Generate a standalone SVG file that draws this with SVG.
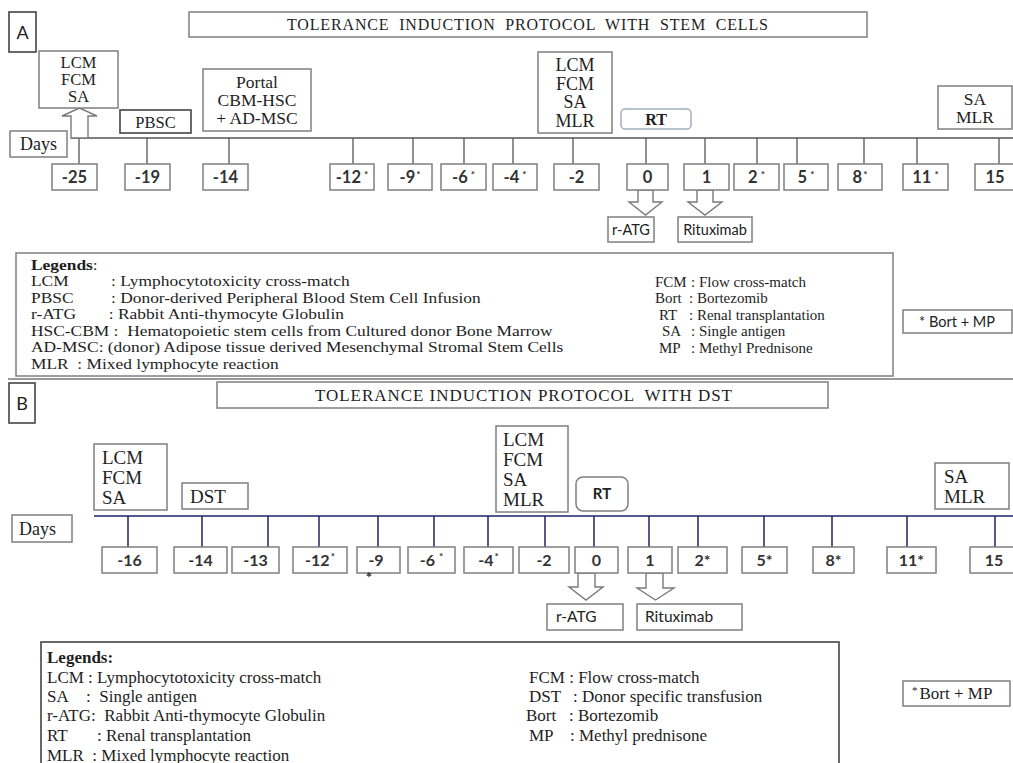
<svg xmlns="http://www.w3.org/2000/svg" width="1013" height="763" viewBox="0 0 1013 763">
<style>
.bg{fill:#fff}
.box{fill:#fff;stroke:#7f7f7f;stroke-width:1.5}
.dbox{fill:#fff;stroke:#444;stroke-width:1.6}
.serif{font-family:"Liberation Serif","Times New Roman",serif;fill:#1e1e1e}
.sans{font-family:Lato,"Liberation Sans",sans-serif;fill:#222}
.day{font-family:Lato,"Liberation Sans",sans-serif;font-weight:700;font-size:16.5px;text-anchor:middle;fill:#333}
.dayB{font-family:Lato,"Liberation Sans",sans-serif;font-weight:700;font-size:16px;text-anchor:middle;fill:#333}
.sup{font-size:10px}
.mid{text-anchor:middle}
.tickA{stroke:#555;stroke-width:1.3;fill:none}
.tickB{stroke:#1f2266;stroke-width:1.5;fill:none}
.arrow{fill:#fff;stroke:#7a7a7a;stroke-width:1.4}
.leg{font-size:15px}
.legR{font-size:15px}
.legB{font-size:17px}
</style>
<rect class="bg" x="0" y="0" width="1013" height="763"/>

<!-- ===== PANEL A ===== -->
<g id="labelA"><rect class="dbox" x="9" y="12" width="27" height="40"/><text class="sans mid" x="22.5" y="39" font-size="18">A</text></g>
<g id="titleA"><rect class="box" x="189" y="12" width="678" height="25"/><text class="serif" x="287" y="30" font-size="16" textLength="481" lengthAdjust="spacing" xml:space="preserve">TOLERANCE  INDUCTION  PROTOCOL  WITH  STEM  CELLS</text></g>

<g id="connectorsA">
<line class="tickA" x1="71" y1="138" x2="1013" y2="138"/>
<line class="tickA" x1="79" y1="138" x2="79" y2="164"/>
<line class="tickA" x1="147" y1="138" x2="147" y2="164"/>
<line class="tickA" x1="229" y1="138" x2="229" y2="164"/>
<line class="tickA" x1="353" y1="138" x2="353" y2="164"/>
<line class="tickA" x1="413" y1="138" x2="413" y2="164"/>
<line class="tickA" x1="464" y1="138" x2="464" y2="164"/>
<line class="tickA" x1="513" y1="138" x2="513" y2="164"/>
<line class="tickA" x1="573" y1="138" x2="573" y2="164"/>
<line class="tickA" x1="646" y1="138" x2="646" y2="164"/>
<line class="tickA" x1="705" y1="138" x2="705" y2="164"/>
<line class="tickA" x1="757" y1="138" x2="757" y2="164"/>
<line class="tickA" x1="797" y1="138" x2="797" y2="164"/>
<line class="tickA" x1="864" y1="138" x2="864" y2="164"/>
<line class="tickA" x1="917" y1="138" x2="917" y2="164"/>
<line class="tickA" x1="999" y1="138" x2="999" y2="164"/>
<polygon class="arrow" points="71,138 71,116 62,116 79.5,108 97,116 88,116 88,138"/>
<polygon class="arrow" points="638,190 653,190 653,202 662,202 645.5,215 629,202 638,202"/>
<polygon class="arrow" points="697,190 713,190 713,202 722,202 705,215 688,202 697,202"/>
</g>

<g id="a-lcm"><rect class="box" x="39" y="51" width="79" height="57"/>
<text class="serif mid" x="78.5" font-size="16.5"><tspan x="78.5" y="68">LCM</tspan><tspan x="78.5" y="85">FCM</tspan><tspan x="78.5" y="102">SA</tspan></text></g>
<g id="a-days"><rect class="box" x="10" y="131" width="57" height="26"/><text class="serif mid" x="38.5" y="150" font-size="18">Days</text></g>
<g id="a-pbsc"><rect class="dbox" x="120" y="110" width="71" height="23"/><text class="serif mid" x="155.5" y="127.5" font-size="16.5">PBSC</text></g>
<g id="a-portal"><rect class="box" x="203" y="69" width="108" height="62"/>
<text class="serif mid" font-size="17.5"><tspan x="257" y="88">Portal</tspan><tspan x="257" y="106">CBM-HSC</tspan><tspan x="257" y="124">+ AD-MSC</tspan></text></g>
<g id="a-lcm2"><rect class="box" x="538" y="52" width="74" height="81"/>
<text class="serif mid" font-size="18"><tspan x="575" y="71">LCM</tspan><tspan x="575" y="89.5">FCM</tspan><tspan x="575" y="108">SA</tspan><tspan x="575" y="126.5">MLR</tspan></text></g>
<g id="a-rt"><rect x="621" y="109" width="70" height="20" rx="4" fill="#fff" stroke="#9fb0c0" stroke-width="1.5"/><text class="serif mid" x="656" y="124.5" font-size="16" font-weight="700">RT</text></g>
<g id="a-samlr"><rect class="box" x="938" y="86" width="74" height="43"/>
<text class="serif mid" font-size="17.5"><tspan x="975" y="105">SA</tspan><tspan x="975" y="123">MLR</tspan></text></g>

<g id="a-d-25"><rect class="box" x="52" y="164" width="45" height="26"/><text class="day" x="74.5" y="182.5">-25</text></g>
<g id="a-d-19"><rect class="box" x="125" y="164" width="45" height="26"/><text class="day" x="147.5" y="182.5">-19</text></g>
<g id="a-d-14"><rect class="box" x="203" y="164" width="45" height="26"/><text class="day" x="225.5" y="182.5">-14</text></g>
<g id="a-d-12"><rect class="box" x="330" y="164" width="44" height="26"/><text class="day" x="352" y="182.5">-12<tspan class="sup" dx="3" dy="-5">*</tspan></text></g>
<g id="a-d-9"><rect class="box" x="388" y="164" width="44" height="26"/><text class="day" x="410" y="182.5">-9<tspan class="sup" dx="1" dy="-5">*</tspan></text></g>
<g id="a-d-6"><rect class="box" x="441" y="164" width="45" height="26"/><text class="day" x="463.5" y="182.5">-6<tspan class="sup" dx="3" dy="-5">*</tspan></text></g>
<g id="a-d-4"><rect class="box" x="493" y="164" width="44" height="26"/><text class="day" x="515" y="182.5">-4<tspan class="sup" dx="3" dy="-5">*</tspan></text></g>
<g id="a-d-2"><rect class="box" x="554" y="164" width="45" height="26"/><text class="day" x="576.5" y="182.5">-2</text></g>
<g id="a-d0"><rect class="box" x="627" y="164" width="41" height="26"/><text class="day" x="647.5" y="182.5">0</text></g>
<g id="a-d1"><rect class="box" x="684" y="164" width="45" height="26"/><text class="day" x="706.5" y="182.5">1</text></g>
<g id="a-d2"><rect class="box" x="734" y="164" width="45" height="26"/><text class="day" x="756.5" y="182.5">2<tspan class="sup" dx="3" dy="-5">*</tspan></text></g>
<g id="a-d5"><rect class="box" x="784" y="164" width="44" height="26"/><text class="day" x="806" y="182.5">5<tspan class="sup" dx="3" dy="-5">*</tspan></text></g>
<g id="a-d8"><rect class="box" x="838" y="164" width="44" height="26"/><text class="day" x="860" y="182.5">8<tspan class="sup" dx="1" dy="-5">*</tspan></text></g>
<g id="a-d11"><rect class="box" x="903" y="164" width="45" height="26"/><text class="day" x="925.5" y="182.5">11<tspan class="sup" dx="3" dy="-5">*</tspan></text></g>
<g id="a-d15"><rect class="box" x="975" y="164" width="45" height="26"/><text class="day" x="995" y="182.5">15</text></g>

<g id="a-ratg"><rect class="box" x="608" y="217" width="46" height="25"/><text class="sans mid" x="631" y="234.5" font-size="14.5">r-ATG</text></g>
<g id="a-ritux"><rect class="box" x="678" y="217" width="74" height="25"/><text class="sans mid" x="715" y="234.5" font-size="14.5">Rituximab</text></g>

<g id="a-legend"><rect class="box" x="16" y="253" width="877" height="123"/>
<g transform="translate(31,0) scale(1.16,1) translate(-31,0)">
<text class="serif leg" x="31" y="270" font-weight="700">Legends<tspan font-weight="400">:</tspan></text>
<text class="serif leg" x="31" y="286.5">LCM</text><text class="serif leg" x="100" y="286.5">: Lymphocytotoxicity cross-match</text>
<text class="serif leg" x="31" y="303">PBSC</text><text class="serif leg" x="100" y="303">: Donor-derived Peripheral Blood Stem Cell Infusion</text>
<text class="serif leg" x="31" y="319.5">r-ATG</text><text class="serif leg" x="98" y="319.5">: Rabbit Anti-thymocyte Globulin</text>
<text class="serif leg" x="31" y="336" xml:space="preserve">HSC-CBM :  Hematopoietic stem cells from Cultured donor Bone Marrow</text>
<text class="serif leg" x="31" y="352.5">AD-MSC: (donor) Adipose tissue derived Mesenchymal Stromal Stem Cells</text>
<text class="serif leg" x="31" y="369" xml:space="preserve">MLR  : Mixed lymphocyte reaction</text>
</g>
<text class="serif legR" x="655" y="286.5">FCM</text><text class="serif legR" x="691" y="286.5">: Flow cross-match</text>
<text class="serif legR" x="655" y="303">Bort</text><text class="serif legR" x="689" y="303">: Bortezomib</text>
<text class="serif legR" x="659" y="319.5">RT</text><text class="serif legR" x="689" y="319.5">: Renal transplantation</text>
<text class="serif legR" x="662" y="336">SA</text><text class="serif legR" x="691" y="336">: Single antigen</text>
<text class="serif legR" x="659" y="352.5">MP</text><text class="serif legR" x="691" y="352.5">: Methyl Prednisone</text>
</g>
<g id="a-note"><rect class="box" x="903" y="310" width="109" height="23"/><text class="sans mid" x="957" y="326.5" font-size="14.5">* Bort + MP</text></g>

<line x1="8" y1="379" x2="1013" y2="379" stroke="#777" stroke-width="1.5"/>

<!-- ===== PANEL B ===== -->
<g id="labelB"><rect class="dbox" x="9" y="383" width="26" height="40"/><text class="sans mid" x="22" y="410" font-size="18">B</text></g>
<g id="titleB"><rect class="box" x="217" y="382" width="611" height="26"/><text class="serif" x="315" y="401" font-size="17" textLength="417" lengthAdjust="spacing" xml:space="preserve">TOLERANCE INDUCTION PROTOCOL  WITH DST</text></g>

<g id="connectorsB">
<line class="tickB" x1="94" y1="516" x2="1013" y2="516" stroke-width="1.2"/>
<line class="tickB" x1="128" y1="516" x2="128" y2="547"/>
<line class="tickB" x1="202" y1="516" x2="202" y2="547"/>
<line class="tickB" x1="268" y1="516" x2="268" y2="547"/>
<line class="tickB" x1="319" y1="516" x2="319" y2="547"/>
<line class="tickB" x1="378" y1="516" x2="378" y2="547"/>
<line class="tickB" x1="434" y1="516" x2="434" y2="547"/>
<line class="tickB" x1="488" y1="516" x2="488" y2="547"/>
<line class="tickB" x1="545" y1="516" x2="545" y2="547"/>
<line class="tickB" x1="594" y1="516" x2="594" y2="547"/>
<line class="tickB" x1="649" y1="516" x2="649" y2="547"/>
<line class="tickB" x1="698" y1="516" x2="698" y2="547"/>
<line class="tickB" x1="764" y1="516" x2="764" y2="547"/>
<line class="tickB" x1="832" y1="516" x2="832" y2="547"/>
<line class="tickB" x1="907" y1="516" x2="907" y2="547"/>
<line class="tickB" x1="995" y1="516" x2="995" y2="547"/>
<polygon class="arrow" points="578,573 595,573 595,587 603,587 586,600 569,587 578,587"/>
<polygon class="arrow" points="646,573 663,573 663,588 674,588 655.5,600 637,588 646,588"/>
</g>

<g id="b-lcm"><rect class="box" x="94" y="444" width="73" height="66"/>
<text class="serif" font-size="19"><tspan x="102" y="464">LCM</tspan><tspan x="102" y="484">FCM</tspan><tspan x="102" y="504">SA</tspan></text></g>
<g id="b-dst"><rect class="box" x="182" y="483" width="66" height="26"/><text class="serif" x="190" y="503" font-size="19">DST</text></g>
<g id="b-days"><rect class="box" x="12" y="515" width="60" height="27"/><text class="serif" x="19" y="534.5" font-size="18">Days</text></g>
<g id="b-lcm2"><rect class="box" x="496" y="426" width="72" height="86"/>
<text class="serif" font-size="19"><tspan x="503" y="446">LCM</tspan><tspan x="503" y="466">FCM</tspan><tspan x="503" y="486">SA</tspan><tspan x="503" y="506">MLR</tspan></text></g>
<g id="b-rt"><rect x="576" y="477" width="52" height="34" rx="7" fill="#fff" stroke="#7f7f7f" stroke-width="1.5"/><text class="sans mid" x="602" y="499" font-size="15" font-weight="700">RT</text></g>
<g id="b-samlr"><rect class="box" x="935" y="463" width="74" height="46"/>
<text class="serif" font-size="19"><tspan x="944" y="483">SA</tspan><tspan x="944" y="503">MLR</tspan></text></g>

<g id="b-d-16"><rect class="box" x="102" y="547" width="55" height="26"/><text class="dayB" x="129.5" y="566">-16</text></g>
<g id="b-d-14"><rect class="box" x="174" y="547" width="53" height="26"/><text class="dayB" x="200.5" y="566">-14</text></g>
<g id="b-d-13"><rect class="box" x="232" y="547" width="47" height="26"/><text class="dayB" x="255.5" y="566">-13</text></g>
<g id="b-d-12"><rect class="box" x="293" y="547" width="54" height="26"/><text class="dayB" x="320" y="566">-12<tspan class="sup" dx="1" dy="-6">*</tspan></text></g>
<g id="b-d-9"><rect class="box" x="357" y="547" width="43" height="26"/><text class="dayB" x="376" y="566">-9</text><text class="dayB" x="369" y="583" font-size="10">*</text></g>
<g id="b-d-6"><rect class="box" x="408" y="547" width="47" height="26"/><text class="dayB" x="431.5" y="566">-6<tspan class="sup" dx="4" dy="-6">*</tspan></text></g>
<g id="b-d-4"><rect class="box" x="464" y="547" width="49" height="26"/><text class="dayB" x="488.5" y="566">-4<tspan class="sup" dx="1" dy="-6">*</tspan></text></g>
<g id="b-d-2"><rect class="box" x="519" y="547" width="50" height="26"/><text class="dayB" x="544" y="566">-2</text></g>
<g id="b-d0"><rect class="box" x="575" y="547" width="43" height="26"/><text class="dayB" x="596.5" y="566">0</text></g>
<g id="b-d1"><rect class="box" x="628" y="547" width="44" height="26"/><text class="dayB" x="650" y="566">1</text></g>
<g id="b-d2"><rect class="box" x="678" y="547" width="49" height="26"/><text class="dayB" x="702.5" y="566">2*</text></g>
<g id="b-d5"><rect class="box" x="742" y="547" width="45" height="26"/><text class="dayB" x="764.5" y="566">5*</text></g>
<g id="b-d8"><rect class="box" x="813" y="547" width="41" height="26"/><text class="dayB" x="833.5" y="566">8*</text></g>
<g id="b-d11"><rect class="box" x="887" y="547" width="49" height="26"/><text class="dayB" x="911.5" y="566">11*</text></g>
<g id="b-d15"><rect class="box" x="970" y="547" width="50" height="26"/><text class="dayB" x="994" y="566">15</text></g>

<g id="b-ratg"><rect class="box" x="547" y="604" width="76" height="26"/><text class="sans" x="556" y="622" font-size="15.5">r-ATG</text></g>
<g id="b-ritux"><rect class="box" x="637" y="604" width="105" height="26"/><text class="sans" x="645" y="622" font-size="15.5">Rituximab</text></g>

<g id="b-legend"><rect class="dbox" x="41" y="642" width="798" height="125"/>
<text class="serif legB" x="47" y="663" font-weight="700">Legends:</text>
<text class="serif legB" x="47" y="683" xml:space="preserve">LCM : Lymphocytotoxicity cross-match</text>
<text class="serif legB" x="47" y="702">SA</text><text class="serif legB" x="86" y="702" xml:space="preserve">:  Single antigen</text>
<text class="serif legB" x="47" y="721" xml:space="preserve">r-ATG:  Rabbit Anti-thymocyte Globulin</text>
<text class="serif legB" x="47" y="741">RT</text><text class="serif legB" x="97" y="741">: Renal transplantation</text>
<text class="serif legB" x="47" y="761" xml:space="preserve">MLR  : Mixed lymphocyte reaction</text>
<text class="serif legB" x="529" y="683">FCM : Flow cross-match</text>
<text class="serif legB" x="529" y="702">DST</text><text class="serif legB" x="573" y="702">: Donor specific transfusion</text>
<text class="serif legB" x="526" y="721">Bort</text><text class="serif legB" x="569" y="721">: Bortezomib</text>
<text class="serif legB" x="529" y="741">MP</text><text class="serif legB" x="570" y="741">: Methyl prednisone</text>
</g>
<g id="b-note"><rect class="box" x="903" y="681" width="107" height="25"/><text class="serif" x="912" y="699" font-size="17"><tspan font-size="11" dy="-5">*</tspan><tspan dy="5" dx="2">Bort + MP</tspan></text></g>
</svg>
